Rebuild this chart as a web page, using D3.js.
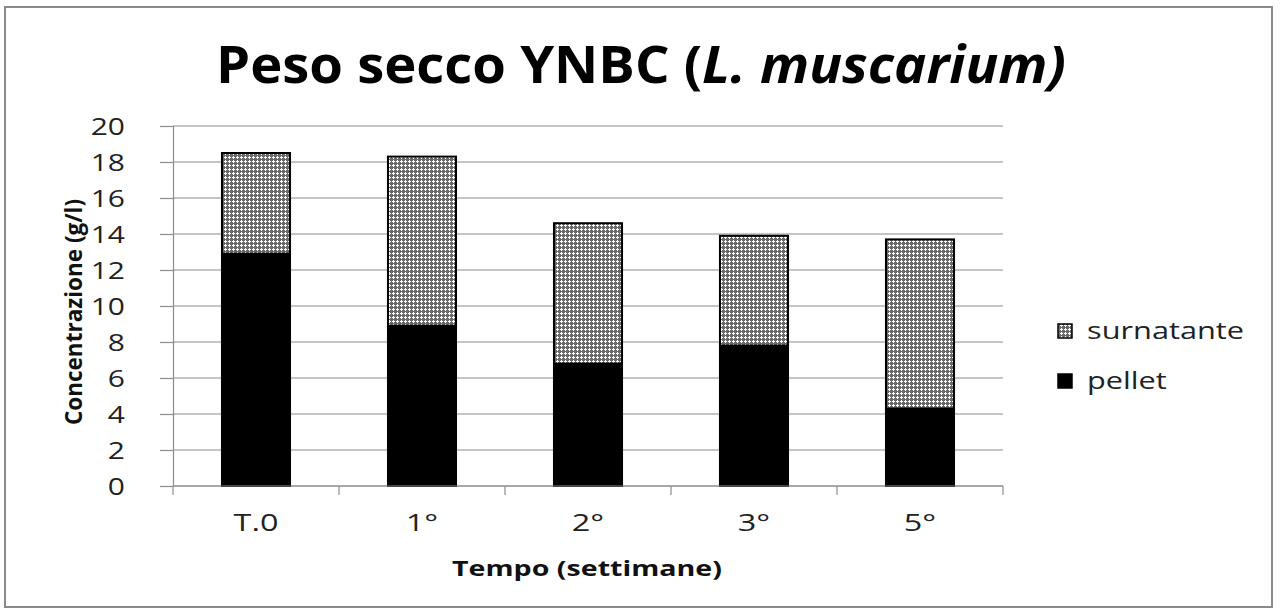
<!DOCTYPE html>
<html><head><meta charset="utf-8">
<script src="https://cdn.jsdelivr.net/npm/d3@7"></script>
<style>body{margin:0;background:#fff}svg{display:block}</style>
</head><body>
<svg id="c" width="1280" height="614"></svg>
<script>
const categories = ["T.0", "1°", "2°", "3°", "5°"];
const pellet = [12.9, 8.9, 6.8, 7.8, 4.3];
const surnatante = [5.6, 9.4, 7.8, 6.1, 9.4];
const seriesNames = ["pellet", "surnatante"];
const yTicks = [0, 2, 4, 6, 8, 10, 12, 14, 16, 18, 20];

const svg = d3.select("#c");
const font = "'Open Sans', sans-serif";
const STRETCH = 1.25;
function stretch(sel, f) {
  sel.each(function () {
    const len = this.getComputedTextLength();
    d3.select(this).attr("textLength", len * f).attr("lengthAdjust", "spacingAndGlyphs");
  });
}

// frame
svg.append("rect").attr("x", 5).attr("y", 7).attr("width", 1267).attr("height", 600)
  .attr("fill", "#fff").attr("stroke", "#8a8a8a").attr("stroke-width", 2);

// pattern
const defs = svg.append("defs");
const pat = defs.append("pattern").attr("id", "dots").attr("patternUnits", "userSpaceOnUse")
  .attr("width", 4).attr("height", 4);
pat.append("rect").attr("width", 4).attr("height", 4).attr("fill", "#6a6a6a");
pat.append("rect").attr("x", 1).attr("y", 0).attr("width", 1).attr("height", 3).attr("fill", "#fff");
pat.append("rect").attr("x", 0).attr("y", 1).attr("width", 3).attr("height", 1).attr("fill", "#fff");

const m = {left: 173, right: 1003, top: 126, bottom: 486};
const x = d3.scaleBand().domain(categories).range([m.left, m.right]).paddingInner(0.59).paddingOuter(0.295);
const y = d3.scaleLinear().domain([0, 20]).range([m.bottom, m.top]);

// gridlines
svg.append("g").selectAll("line").data(yTicks).join("line")
  .attr("x1", m.left).attr("x2", m.right)
  .attr("y1", d => y(d)).attr("y2", d => y(d))
  .attr("stroke", "#8c8c8c").attr("stroke-width", 1.2);

// y axis
const ya = svg.append("g").attr("transform", `translate(${m.left},0)`)
  .call(d3.axisLeft(y).tickValues(yTicks).tickSize(13).tickPadding(35));
ya.select(".domain").attr("stroke", "#8c8c8c").attr("stroke-width", 1.2);
ya.selectAll(".tick line").attr("stroke", "#8c8c8c").attr("stroke-width", 1.2);
ya.selectAll("text").attr("font-family", font).attr("font-size", 24).attr("fill", "#222").attr("dy", "0.34em");
stretch(ya.selectAll("text"), STRETCH);

// stacked bars
const rows = categories.map((c, i) => ({cat: c, pellet: pellet[i], surnatante: surnatante[i]}));
const stack = d3.stack().keys(seriesNames)(rows);
const fills = {pellet: "#000", surnatante: "url(#dots)"};
svg.append("g").selectAll("g").data(stack).join("g")
  .attr("fill", d => fills[d.key])
  .selectAll("rect").data(d => d).join("rect")
  .attr("x", d => x(d.data.cat)).attr("width", x.bandwidth())
  .attr("y", d => y(d[1])).attr("height", d => y(d[0]) - y(d[1]))
  .attr("stroke", "#000").attr("stroke-width", 2);

// x axis
const step = x.step();
const xa = svg.append("g").attr("transform", `translate(0,${m.bottom})`);
xa.append("line").attr("x1", m.left).attr("x2", m.right).attr("stroke", "#8c8c8c").attr("stroke-width", 1.2);
const bounds = d3.range(categories.length + 1).map(i => m.left + i * step);
xa.selectAll(".tk").data(bounds).join("line").attr("class", "tk")
  .attr("x1", d => d).attr("x2", d => d).attr("y1", 0).attr("y2", 9)
  .attr("stroke", "#8c8c8c").attr("stroke-width", 1.2);
const xl = xa.selectAll(".lb").data(categories).join("text").attr("class", "lb")
  .attr("x", d => x(d) + x.bandwidth() / 2).attr("y", 45)
  .attr("text-anchor", "middle").attr("font-family", font).attr("font-size", 24).attr("fill", "#222")
  .text(d => d);
stretch(xl, 1.35);

// axis titles
const xt = svg.append("text").attr("x", 587).attr("y", 576).attr("text-anchor", "middle")
  .attr("font-family", font).attr("font-weight", "bold").attr("font-size", 22).attr("fill", "#111")
  .text("Tempo (settimane)");
stretch(xt, 1.3);
svg.append("text").attr("transform", "translate(82,312) rotate(-90)").attr("text-anchor", "middle")
  .attr("font-family", font).attr("font-weight", "bold").attr("font-size", 22.5).attr("fill", "#111")
  .text("Concentrazione (g/l)");

// title
const t = svg.append("text").attr("x", 216).attr("y", 83)
  .attr("font-family", font).attr("font-weight", "bold").attr("font-size", 52).attr("fill", "#000")
  .attr("textLength", 850).attr("lengthAdjust", "spacingAndGlyphs");
t.append("tspan").text("Peso secco YNBC (");
t.append("tspan").attr("font-style", "italic").text("L. muscarium)");

// legend
const legendItems = [{name: "surnatante", fill: "url(#dots)", yy: 331}, {name: "pellet", fill: "#000", yy: 381}];
const lg = svg.append("g");
lg.selectAll("rect").data(legendItems).join("rect")
  .attr("x", 1058).attr("y", d => d.yy - 7).attr("width", 14).attr("height", 14)
  .attr("fill", d => d.fill).attr("stroke", "#000").attr("stroke-width", 1.5);
const lt = lg.selectAll("text").data(legendItems).join("text")
  .attr("x", 1087).attr("y", d => d.yy + 8)
  .attr("font-family", font).attr("font-size", 24).attr("fill", "#222")
  .text(d => d.name);
stretch(lt, 1.28);
</script>
</body></html>
